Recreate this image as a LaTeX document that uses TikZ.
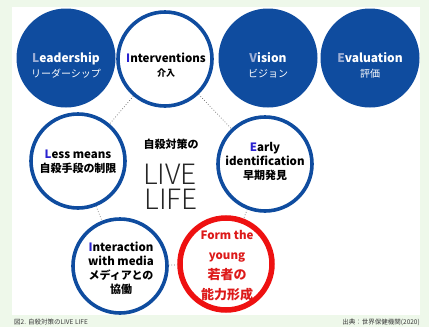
\documentclass[tikz,border=0pt]{standalone}
\usepackage{fontspec}
\setmainfont{Noto Sans CJK JP}
\newfontfamily\lightfont{Noto Sans CJK JP Light}
\definecolor{bggreen}{HTML}{EEF8EA}
\definecolor{cblue}{HTML}{0F4C9F}
\definecolor{lblue}{HTML}{9CAED6}
\definecolor{initblue}{HTML}{2A22D0}
\definecolor{cred}{HTML}{EE1111}
\definecolor{tred}{HTML}{DD1A1A}
\definecolor{captgray}{HTML}{3A3A3A}
\tikzset{
  filledc/.style={circle, fill=cblue, minimum size=99pt, inner sep=0pt},
  ringc/.style={circle, draw=cblue, line width=3.6pt, fill=white, minimum size=94pt, inner sep=0pt},
  redc/.style={circle, draw=cred, line width=5.5pt, fill=white, minimum size=92pt, inner sep=0pt},
  wtext/.style={align=center, text=white, font=\fontsize{12}{15}\selectfont\bfseries},
  btext/.style={align=center, text=black, font=\fontsize{11.5}{14}\selectfont\bfseries},
  rtext/.style={align=center, text=tred, font=\fontsize{11.5}{20}\selectfont\bfseries},
  link/.style={draw=black!60, dotted, line width=0.7pt},
  bigtext/.style={text=black!85, font=\fontsize{28}{24}\selectfont\lightfont, inner sep=0pt, text height=19pt, text depth=0pt},
  capt/.style={text=captgray, font=\fontsize{6.5}{7}\selectfont, inner sep=0pt}
}
\begin{document}
\begin{tikzpicture}[x=1pt,y=-1pt]
\fill[bggreen] (0,0) rectangle (429,327);
\fill[white] (12,7) rectangle (420,315);
\useasboundingbox (0,0) rectangle (429,327);
% circles
\node[filledc] (lead) at (66,58) {};
\node[ringc] (inter) at (165,59) {};
\node[filledc] (vis) at (268,58) {};
\node[filledc] (eval) at (370,58) {};
\node[ringc] (less) at (78,161) {};
\node[ringc] (early) at (265,164) {};
\node[ringc] (media) at (120,266) {};
\node[redc] (form) at (226,264) {};
% connectors
\draw[link] (inter) -- (less);
\draw[link] (inter) -- (early);
\draw[link] (less) -- (media);
\draw[link] (early) -- (form);
\draw[link] (media) -- (form);
% texts
\node[wtext] (leadt) at (66,65) {{\color{lblue}L}eadership\\{\fontsize{10}{12}\selectfont\mdseries リーダーシップ}};
\node[btext] (intert) at (166,65) {{\color{initblue}I}nterventions\\{\fontsize{9}{12}\selectfont 介入}};
\node[wtext] (vist) at (268,65) {{\color{lblue}V}ision\\{\fontsize{10}{12}\selectfont\mdseries ビジョン}};
\node[wtext] (evalt) at (370,65) {{\color{lblue}E}valuation\\{\fontsize{10}{12}\selectfont\mdseries 評価}};
\node[btext] (lesst) at (78,162) {{\color{initblue}L}ess means\\{\fontsize{11}{14}\selectfont 自殺手段の制限}};
\node[btext] (earlyt) at (265,161) {{\color{initblue}E}arly\\identification\\{\fontsize{11}{14}\selectfont 早期発見}};
\node[btext] (mediat) at (121,268) {{\color{initblue}I}nteraction\\with media\\{\fontsize{11}{14}\selectfont メディアとの}\\{\fontsize{11}{14}\selectfont 協働}};
\node[rtext] (formt) at (227,266) {Form the\\young\\{\fontsize{13}{20}\selectfont 若者の}\\{\fontsize{13}{20}\selectfont 能力形成}};
\node[font=\fontsize{11}{13}\selectfont\bfseries] (sub) at (171,144) {自殺対策の};
\node[bigtext] (live) at (170,175) {LIVE};
\node[bigtext] (life) at (171,199.5) {LIFE};
% captions
\node[capt, anchor=west] (cap1) at (14,322) {図2. 自殺対策のLIVE LIFE};
\node[capt, anchor=east] (cap2) at (420,322) {出典：世界保健機関(2020)};
\end{tikzpicture}
\end{document}
